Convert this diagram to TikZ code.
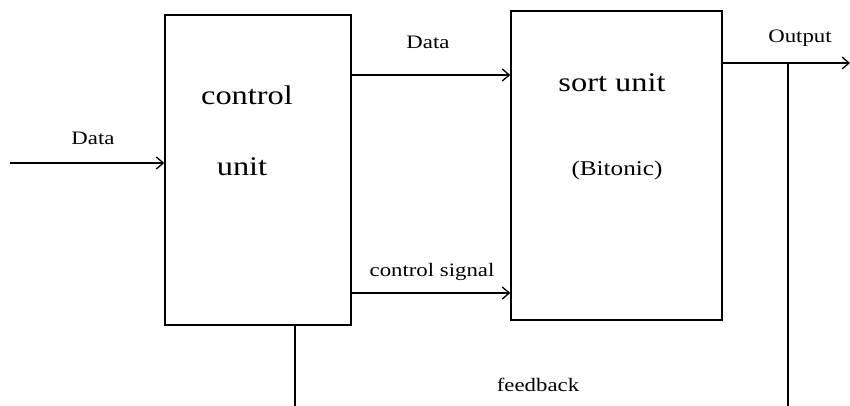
\documentclass[tikz,border=0pt]{standalone}
\usepackage{fontspec}
\usepackage{graphicx}
\setmainfont{Liberation Serif}
\usetikzlibrary{arrows.meta}
\newcommand{\widetxt}[1]{\scalebox{1.2}[1]{#1}}
\begin{document}
\begin{tikzpicture}[x=1pt,y=-1pt,
  box/.style={draw, line width=1.5pt, inner sep=0pt},
  conn/.style={line width=1.5pt},
  arr/.style={conn, -{Straight Barb[length=7pt,width=12pt,line width=1.3pt]}},
  big/.style={inner sep=0pt, font=\fontsize{27}{30}\selectfont},
  mid/.style={inner sep=0pt, font=\fontsize{21}{24}\selectfont},
  lbl/.style={inner sep=0pt, font=\fontsize{19}{22}\selectfont}]
\useasboundingbox (0,0) rectangle (850,406);
\node[box, minimum width=186pt, minimum height=310pt] (cu) at (258,170) {};
\node[box, minimum width=211pt, minimum height=309pt] (su) at (616.5,165.5) {};
\node[big] (t1) at (247,95) {\widetxt{control}};
\node[big] (t2) at (242,167) {\widetxt{unit}};
\node[big] (t3) at (612,83) {\widetxt{sort unit}};
\node[mid] (t4) at (617,170) {\widetxt{(Bitonic)}};
\node[lbl] (l1) at (93,138) {\widetxt{Data}};
\node[lbl] (l2) at (428,42) {\widetxt{Data}};
\node[lbl] (l3) at (432,272) {\widetxt{control signal}};
\node[lbl] (l4) at (800,38) {\widetxt{Output}};
\node[lbl] (l5) at (538,385) {\widetxt{feedback}};
\coordinate (in) at (10,163);
\coordinate (dy) at (0,75);
\coordinate (cy) at (0,293);
\coordinate (oy) at (0,63);
\coordinate (out) at (850,63);
\coordinate (vx) at (788,63);
\coordinate (vb) at (788,406);
\coordinate (fb) at (295,406);
\draw[arr] (in) -- (cu.west |- in);
\draw[arr] (cu.east |- dy) -- (su.west |- dy);
\draw[arr] (cu.east |- cy) -- (su.west |- cy);
\draw[arr] (su.east |- oy) -- (out);
\draw[conn] (vx) -- (vb);
\draw[conn] (cu.south -| fb) -- (fb);
\end{tikzpicture}
\end{document}
